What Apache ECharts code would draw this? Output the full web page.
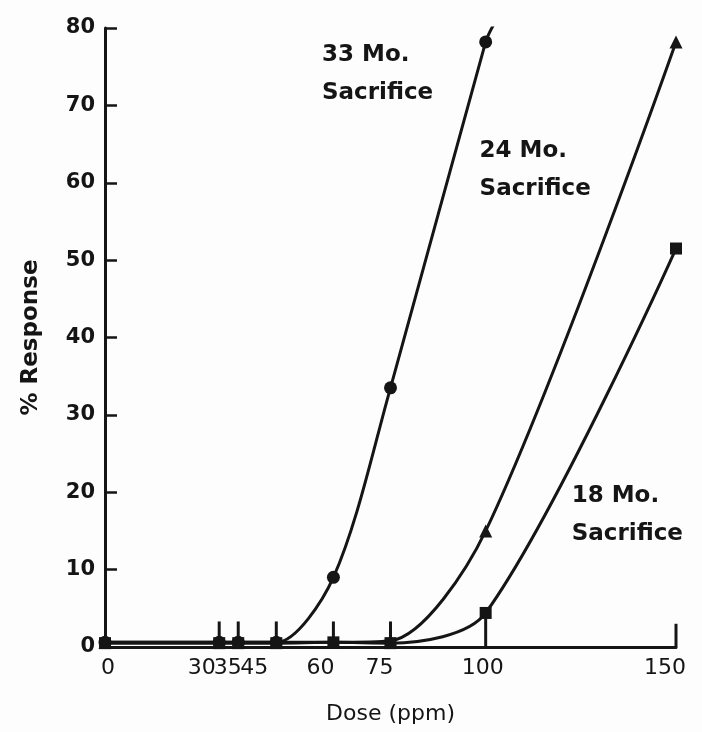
<!DOCTYPE html>
<html>
<head>
<meta charset="utf-8">
<script src="https://cdn.jsdelivr.net/npm/echarts@6/dist/echarts.min.js"></script>
<style>
html,body{margin:0;padding:0;background:#fdfdfd;}
#chart{width:702px;height:732px;}
</style>
</head>
<body>
<div id="chart"></div>
<script>
// ---- data ----
var xTickValues = [0, 30, 35, 45, 60, 75, 100, 150];
var yTickStep = 10;

var doses33 = [0, 30, 35, 45, 60, 75, 100];
var resp33  = [0.6, 0.6, 0.6, 0.6, 9, 33.5, 78.2];
var tail33  = [102.5, 80.8];          // end of drawn curve beyond last point

var doses24 = [0, 30, 35, 45, 60, 75, 100, 150];
var resp24  = [0.6, 0.6, 0.6, 0.6, 0.6, 0.8, 15, 78.2];

var doses18 = [0, 30, 35, 45, 60, 75, 100, 150];
var resp18  = [0.5, 0.5, 0.5, 0.5, 0.6, 0.5, 4.4, 51.5];

// vertical marks: [dose, from, to]
var spikeDose = [30, 35, 45, 60, 75, 100, 150];
var spikeLow  = [0.5, 0.5, 0.5, 0.5, 0.5, 0, 0];
var spikeHigh = [3.3, 3.3, 3.3, 3.3, 3.3, 4.4, 3.0];

var labelNames = ['33 Mo.\nSacrifice', '24 Mo.\nSacrifice', '18 Mo.\nSacrifice'];
var labelDose  = [57, 98.4, 122.6];
var labelResp  = [79.0, 66.6, 22.0];

// ---- build ----
var INK = '#151515';
var FONT = 'DejaVu Sans';

function pairs(xs, ys) { return xs.map(function (x, i) { return [x, ys[i]]; }); }

var data33 = pairs(doses33, resp33).map(function (p) { return { value: p }; });
data33.push({ value: tail33, symbol: 'none' });

var xLabelShift = { 0: 'p0', 30: 'p30', 35: 'p35', 45: 'p45', 60: 'p60', 75: 'p75', 100: 'p100', 150: 'p150' };
var rich = {
  p0:   { padding: [0, 0, 0, 6] },
  p30:  { padding: [0, 35, 0, 0] },
  p35:  { padding: [0, 21, 0, 0] },
  p45:  { padding: [0, 44, 0, 0] },
  p60:  { padding: [0, 26, 0, 0] },
  p75:  { padding: [0, 22, 0, 0] },
  p100: { padding: [0, 6, 0, 0] },
  p150: { padding: [0, 22, 0, 0] }
};
Object.keys(rich).forEach(function (k) {
  rich[k].fontSize = 22; rich[k].fontFamily = FONT; rich[k].color = INK;
});

var lineCommon = {
  type: 'line',
  smooth: 0.3,
  lineStyle: { color: INK, width: 3 },
  itemStyle: { color: INK },
  z: 3
};

var chart = echarts.init(document.getElementById('chart'));
chart.setOption({
  backgroundColor: '#fdfdfd',
  animation: false,
  grid: { left: 105, right: 26, top: 28, bottom: 85 },
  xAxis: {
    type: 'value', min: 0, max: 150, interval: 5,
    axisLine: { lineStyle: { color: INK, width: 3 } },
    axisTick: { show: false },
    splitLine: { show: false },
    axisLabel: {
      margin: 10,
      formatter: function (v) {
        if (xTickValues.indexOf(v) < 0) return '';
        return '{' + xLabelShift[v] + '|' + v + '}';
      },
      rich: rich
    },
    name: 'Dose (ppm)', nameLocation: 'middle', nameGap: 56,
    nameTextStyle: { fontSize: 22, fontFamily: FONT, color: INK }
  },
  yAxis: {
    type: 'value', min: 0, max: 80, interval: yTickStep,
    axisLine: { show: true, lineStyle: { color: INK, width: 3 } },
    axisTick: { show: true, inside: true, length: 12, lineStyle: { color: INK, width: 2.5 } },
    splitLine: { show: false },
    axisLabel: { fontSize: 21, fontWeight: 'bold', fontFamily: FONT, color: INK, margin: 10 },
    name: '% Response', nameLocation: 'middle', nameGap: 62,
    nameTextStyle: { fontSize: 23, fontWeight: 'bold', fontFamily: FONT, color: INK }
  },
  series: [
    {
      type: 'custom', name: 'marks', z: 2,
      data: spikeDose.map(function (d, i) { return [d, spikeLow[i], spikeHigh[i]]; }),
      renderItem: function (params, api) {
        var a = api.coord([api.value(0), api.value(1)]);
        var b = api.coord([api.value(0), api.value(2)]);
        return { type: 'line', shape: { x1: a[0], y1: a[1], x2: b[0], y2: b[1] },
                 style: { stroke: INK, lineWidth: 3 } };
      }
    },
    Object.assign({}, lineCommon, { name: '33 Mo.', data: data33, symbol: 'circle', symbolSize: 13 }),
    Object.assign({}, lineCommon, { name: '24 Mo.', data: pairs(doses24, resp24), symbol: 'triangle', symbolSize: 13 }),
    Object.assign({}, lineCommon, { name: '18 Mo.', data: pairs(doses18, resp18), symbol: 'rect', symbolSize: 12 }),
    {
      type: 'scatter', name: 'labels', symbolSize: 0, silent: true, z: 5,
      itemStyle: { opacity: 1, color: INK },
      data: labelNames.map(function (n, i) { return { value: [labelDose[i], labelResp[i]], name: n }; }),
      label: {
        show: true, position: [0, 0], align: 'left', verticalAlign: 'top',
        formatter: function (p) { return p.name; },
        fontSize: 23, fontWeight: 'bold', fontFamily: FONT, color: INK, lineHeight: 38,
        textBorderWidth: 0, opacity: 1
      }
    }
  ]
});
</script>
</body>
</html>
